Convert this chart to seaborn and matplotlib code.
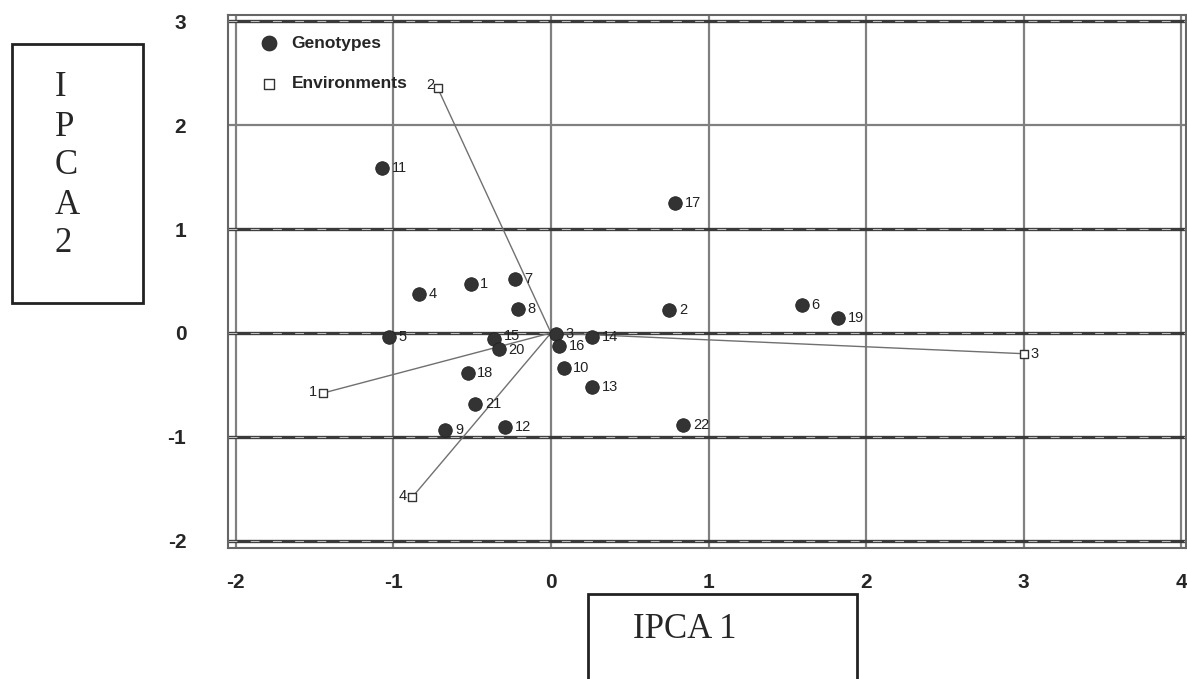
import pandas as pd
import seaborn as sns
import matplotlib.pyplot as plt
from matplotlib.patches import Rectangle

# genotype scores (IPCA 1, IPCA 2)
geno_ids = [str(i) for i in range(1, 23)]
geno_ipca1 = [-0.51, 0.75, 0.03, -0.84, -1.03, 1.59, -0.23, -0.21, -0.67, 0.08, -1.07,
              -0.29, 0.26, 0.26, -0.36, 0.05, 0.79, -0.53, 1.82, -0.33, -0.48, 0.84]
geno_ipca2 = [0.47, 0.22, -0.01, 0.375, -0.04, 0.27, 0.52, 0.23, -0.93, -0.34, 1.59,
              -0.91, -0.52, -0.04, -0.06, -0.13, 1.25, -0.39, 0.14, -0.15, -0.68, -0.89]

# environment scores
env_ids = ['1', '2', '3', '4']
env_ipca1 = [-1.45, -0.72, 3.00, -0.88]
env_ipca2 = [-0.58, 2.36, -0.20, -1.58]

x_ticks = [-2, -1, 0, 1, 2, 3, 4]
y_ticks = [-2, -1, 0, 1, 2, 3]

geno = pd.DataFrame({'id': geno_ids, 'ipca1': geno_ipca1, 'ipca2': geno_ipca2})
env = pd.DataFrame({'id': env_ids, 'ipca1': env_ipca1, 'ipca2': env_ipca2})

sns.set_style('white')
plt.rcParams['font.family'] = ['Liberation Sans', 'DejaVu Sans']

fig = plt.figure(figsize=(11.87, 6.79), dpi=100)
ax = fig.add_axes([228 / 1187, 1 - 548 / 679, (1186 - 228) / 1187, (548 - 15) / 679])

# grid
for xv in x_ticks:
    ax.axvline(xv, color='#808080', lw=1.6, zorder=0)
for yv in y_ticks:
    if yv == 2:
        ax.axhline(yv, color='#808080', lw=1.6, zorder=0)
    else:
        ax.axhline(yv, color='#3a3a3a', lw=2.4, zorder=0)
        ax.axhline(yv, color='#bbbbbb', lw=0.8, ls=(0, (8, 12)), zorder=0)

# vectors from origin to environments
for x, y in zip(env['ipca1'], env['ipca2']):
    ax.plot([0, x], [0, y], color='#707070', lw=1.0, zorder=1)

sns.scatterplot(data=geno, x='ipca1', y='ipca2', ax=ax, s=95, color='#333333',
                edgecolor='#222222', linewidth=0.6, label='Genotypes', zorder=3)
sns.scatterplot(data=env, x='ipca1', y='ipca2', ax=ax, s=40, marker='s',
                facecolor='white', edgecolor='#333333', linewidth=1.0,
                label='Environments', zorder=4)

geno_dy = {'15': 2, '20': -1}
for _, r in geno.iterrows():
    ax.annotate(r['id'], (r['ipca1'], r['ipca2']), xytext=(7, geno_dy.get(r['id'], 0)),
                textcoords='offset points', va='center', ha='left',
                fontsize=10.5, color='#222222')

env_offsets = {'1': (-4, 1, 'right'), '2': (-2, 2, 'right'),
               '3': (5, 0, 'left'), '4': (-4, 1, 'right')}
for _, r in env.iterrows():
    dx, dy, ha = env_offsets[r['id']]
    ax.annotate(r['id'], (r['ipca1'], r['ipca2']), xytext=(dx, dy),
                textcoords='offset points', va='center', ha=ha,
                fontsize=10.5, color='#222222')

ax.set_xlim(-2.05, 4.03)
ax.set_ylim(-2.07, 3.06)
ax.set_xticks(x_ticks)
ax.set_yticks(y_ticks)
ax.set_xticklabels([str(v) for v in x_ticks], fontsize=15, fontweight='bold')
ax.set_yticklabels([str(v) for v in y_ticks], fontsize=15, fontweight='bold')
ax.tick_params(axis='x', pad=18, length=0)
ax.tick_params(axis='y', pad=30, length=0)
ax.set_xlabel('')
ax.set_ylabel('')
for s in ax.spines.values():
    s.set_color('#666666')
    s.set_linewidth(1.5)

leg = ax.legend(loc='upper left', bbox_to_anchor=(0.012, 0.984), frameon=False,
                handletextpad=0.3, labelspacing=1.45, borderaxespad=0.3,
                markerscale=1.1, prop={'weight': 'bold', 'size': 12.5})

# boxed axis titles
fig.add_artist(Rectangle((12 / 1187, 1 - 303 / 679), 131 / 1187, 259 / 679,
                         transform=fig.transFigure, fill=False, ec='#222222', lw=2))
fig.text(55 / 1187, 1 - 166 / 679, 'I\nP\nC\nA\n2', family='Liberation Serif',
         fontsize=25, ha='left', va='center', linespacing=1.24)
fig.add_artist(Rectangle((588 / 1187, -0.02), 269 / 1187, 0.02 + 1 - 594 / 679,
                         transform=fig.transFigure, fill=False, ec='#222222', lw=2))
fig.text(633 / 1187, 1 - 630 / 679, 'IPCA 1', family='Liberation Serif',
         fontsize=25, ha='left', va='center')

fig.savefig('out.png', dpi=100)
